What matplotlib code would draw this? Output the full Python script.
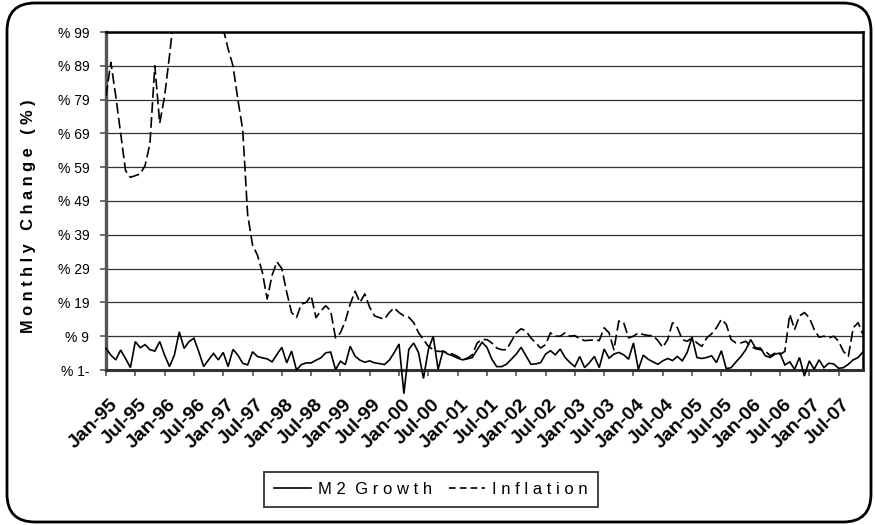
import matplotlib
matplotlib.use("Agg")
import matplotlib.pyplot as plt
from matplotlib.patches import FancyBboxPatch
from matplotlib.lines import Line2D

plt.rcParams['font.family'] = ['Liberation Sans', 'DejaVu Sans']

# monthly values, Jan-95 .. Dec-07 (156 months)
m2_growth = [
    5.4, 3.4, 2.0, 4.9, 2.4, -0.3, 7.4, 5.6, 6.5, 5.0, 4.6, 7.4,
    3.4, 0.0, 3.4, 10.3, 5.4, 7.4, 8.4, 4.4, 0.0, 2.0, 3.9, 2.0,
    4.2, 0.0, 5.1, 3.4, 1.0, 0.5, 4.4, 3.0, 2.6, 2.3, 1.4, 3.6,
    5.7, 1.1, 4.6, -1.0, 0.6, 1.1, 1.1, 1.9, 2.6, 4.1, 4.3, -0.9,
    1.6, 0.6, 6.0, 3.1, 1.9, 1.3, 1.7, 1.1, 0.9, 0.6, 1.9, 4.1,
    6.7, -8.0, 5.1, 7.0, 4.1, -3.5, 5.0, 9.0, -0.8, 4.7, 3.7, 3.2,
    2.5, 2.0, 2.3, 2.7, 5.0, 7.2, 5.7, 2.2, 0.0, 0.0, 0.7, 2.2,
    3.7, 5.7, 3.2, 0.7, 0.8, 1.2, 3.7, 4.7, 3.5, 5.2, 2.7, 1.2,
    0.0, 3.0, -0.3, 1.2, 3.0, -0.3, 5.2, 2.5, 3.7, 4.2, 3.5, 2.2,
    7.0, -0.8, 3.4, 2.2, 1.4, 0.7, 1.7, 2.4, 1.8, 3.0, 1.7, 4.2,
    8.7, 2.7, 2.4, 2.7, 3.2, 1.2, 4.7, -0.6, -0.3, 1.4, 3.0, 5.0,
    8.0, 5.5, 5.5, 3.2, 2.7, 3.7, 4.0, 0.5, 1.4, -0.8, 2.7, -2.8,
    1.7, -0.8, 2.0, -0.3, 1.0, 0.8, -0.5, -0.3, 0.7, 2.0, 2.7, 4.4,
]

inflation = [
    80, 90, 80, 69, 58, 56, 56.5, 57, 59.5, 66, 89, 72,
    80, 92, 105, 120, 130, 135, 135, 130, 125, 118, 110, 104,
    100, 94, 89, 79, 70, 45, 36, 33, 28, 20, 27, 31,
    29, 22, 16, 14.5, 18.5, 19, 21, 14.5, 16.5, 18, 16.5, 8.5,
    10, 13.5, 18.5, 22.3, 19, 21.5, 17.5, 15, 14.5, 14, 16, 17.4,
    16, 15, 14.6, 13, 10, 8, 6, 5, 4.5, 4.5, 4, 3.7,
    3, 2, 2.5, 3.5, 7, 8, 8, 7, 5.5, 5, 5, 7.5,
    10, 11.2, 10.5, 8.5, 7, 5.5, 6.5, 10, 9, 9, 10, 9,
    9.2, 8.2, 7.7, 7.8, 7.9, 7.7, 11.5, 10, 5, 13.5, 13, 8.5,
    9, 10, 9.5, 9.2, 9.2, 7.7, 5.7, 8, 13, 11.5, 8, 7.5,
    8.5, 7, 6, 8.5, 9.7, 11.5, 14, 12.5, 8, 7, 7, 7.5,
    6, 5.3, 5, 4.6, 3.2, 4, 3.6, 4.5, 15.5, 11, 15, 16,
    14.5, 11, 8.7, 9, 8.5, 9, 7.5, 4.5, 3, 11.5, 13, 9.5,
]

tick_labels = ["Jan-95", "Jul-95", "Jan-96", "Jul-96", "Jan-97", "Jul-97",
               "Jan-98", "Jul-98", "Jan-99", "Jul-99", "Jan-00", "Jul-00",
               "Jan-01", "Jul-01", "Jan-02", "Jul-02", "Jan-03", "Jul-03",
               "Jan-04", "Jul-04", "Jan-05", "Jul-05", "Jan-06", "Jul-06",
               "Jan-07", "Jul-07"]
y_ticks = [-1, 9, 19, 29, 39, 49, 59, 69, 79, 89, 99]
y_labels = ["% 1-", "% 9", "% 19", "% 29", "% 39", "% 49", "% 59",
            "% 69", "% 79", "% 89", "% 99"]

months = list(range(len(m2_growth)))
tick_pos = list(range(0, 156, 6))

fig = plt.figure(figsize=(8.75, 5.25), dpi=100)
ax = fig.add_axes([106 / 875, 1 - 370 / 525, (863 - 106) / 875, (370 - 32) / 525])

# horizontal gridlines
for v in y_ticks:
    ax.axhline(v, color='#333333', lw=0.9, zorder=1)

ax.plot(months, m2_growth, color='black', lw=1.2, clip_on=False, zorder=3,
        solid_joinstyle='miter')
ax.plot(months, inflation, color='black', lw=1.2, dashes=(6.5, 2.5), zorder=3)

ax.set_xlim(0, 155)
ax.set_ylim(-1, 99)
ax.set_xticks(tick_pos)
ax.set_xticklabels([])
ax.set_yticks(y_ticks)
ax.set_yticklabels(y_labels, fontsize=10)
ax.tick_params(axis='x', length=4, width=1.2, color='#555555')
ax.tick_params(axis='y', length=4, width=1.2, color='#555555', pad=8)

# rotated month labels, placed below the axis
for p, lab in zip(tick_pos, tick_labels):
    ax.annotate(lab, xy=(p, 0), xycoords=('data', 'axes fraction'),
                xytext=(3, -26), textcoords='offset pixels',
                rotation=45, rotation_mode='anchor', ha='right', va='top',
                fontsize=14, fontweight='bold', annotation_clip=False)

for side in ['top', 'right']:
    ax.spines[side].set_linewidth(1.8)
    ax.spines[side].set_color('black')
ax.spines['left'].set_linewidth(2.4)
ax.spines['left'].set_color('#555555')
ax.spines['bottom'].set_linewidth(2.2)
ax.spines['bottom'].set_color('#333333')

fig.text(29 / 875, 1 - 216 / 525, "M o n t h l y   C h a n g e   ( % )",
         rotation=90, ha='center', va='center', fontsize=11.8, fontweight='bold')

handles = [Line2D([], [], color='black', lw=1.2),
           Line2D([], [], color='black', lw=1.2, dashes=(4, 2.5))]
leg = fig.legend(handles, ["M 2  G r o w t h", "I n f l a t i o n"],
                 loc='center', bbox_to_anchor=(431 / 875, 1 - 489 / 525),
                 ncol=2, frameon=True, fancybox=False, fontsize=12,
                 handlelength=2.2, columnspacing=1.0, handletextpad=0.4,
                 borderpad=0.6)
leg.get_frame().set_edgecolor('black')
leg.get_frame().set_linewidth(1.3)

# rounded outer border (pixel coordinates)
border = FancyBboxPatch((7, 3), 864, 519, boxstyle="round,pad=0,rounding_size=28",
                        transform=None, fill=False, edgecolor='black', lw=2)
fig.patches.append(border)

fig.savefig("out.png", dpi=100)
